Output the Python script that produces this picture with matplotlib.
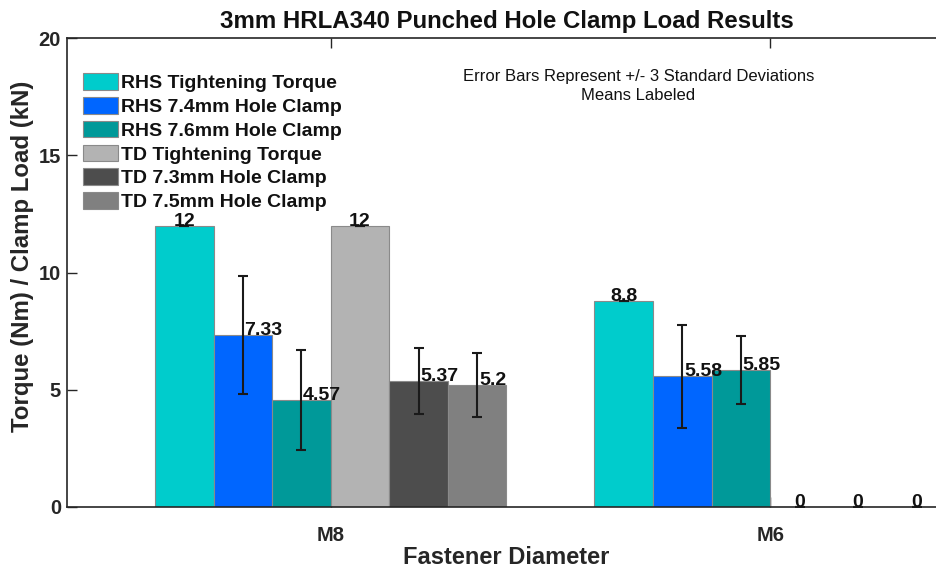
import matplotlib
matplotlib.use('Agg')
import matplotlib.pyplot as plt
import numpy as np

categories = ['M8', 'M6']
series_names = ['RHS Tightening Torque', 'RHS 7.4mm Hole Clamp', 'RHS 7.6mm Hole Clamp',
                'TD Tightening Torque', 'TD 7.3mm Hole Clamp', 'TD 7.5mm Hole Clamp']
rhs_torque = [12, 8.8]
rhs_74 = [7.33, 5.58]
rhs_76 = [4.57, 5.85]
td_torque = [12, 0]
td_73 = [5.37, 0]
td_75 = [5.2, 0]
rhs_torque_err = [0, 0]
rhs_74_err = [2.5, 2.2]
rhs_76_err = [2.12, 1.44]
td_torque_err = [0, 0]
td_73_err = [1.41, 0]
td_75_err = [1.35, 0]
yticks = [0, 5, 10, 15, 20]

means = [rhs_torque, rhs_74, rhs_76, td_torque, td_73, td_75]
errs = [rhs_torque_err, rhs_74_err, rhs_76_err, td_torque_err, td_73_err, td_75_err]
colors = ['#00CCCC', '#0066FF', '#009999', '#B3B3B3', '#4D4D4D', '#808080']

plt.rcParams['font.family'] = ['Liberation Sans', 'DejaVu Sans']
plt.rcParams['font.weight'] = 'bold'

fig = plt.figure(figsize=(9.36, 5.69), dpi=100)
ax = fig.add_axes([67/936, 62/569, (946-67)/936, (507-38)/569])

x = np.arange(1, len(categories) + 1)
n = len(means)
w = 0.8 / n
for i, (m, e, c, name) in enumerate(zip(means, errs, colors, series_names)):
    pos = x + (i - (n - 1) / 2) * w
    ax.bar(pos, m, width=w, color=c, edgecolor='#8a8a8a', linewidth=0.8, label=name, zorder=2)
    ax.errorbar(pos, m, yerr=e, fmt='none', ecolor='#1a1a1a', elinewidth=1.5,
                capsize=3.6, capthick=1.5, zorder=3)
    for px, v, ev in zip(pos, m, e):
        if ev > 0:
            ax.text(px + 0.004, v, f'{v:g}', ha='left', va='baseline', fontsize=14,
                    fontweight='bold', color='#111111', zorder=4)
        else:
            ax.text(px, v, f'{v:g}', ha='center', va='baseline', fontsize=14,
                    fontweight='bold', color='#111111', zorder=4)

ax.set_xlim(0.4, 2.4)
ax.set_ylim(0, 20)
ax.set_xticks(x)
ax.set_xticklabels(categories)
ax.set_yticks(yticks)
ax.tick_params(axis='both', direction='in', length=7.5, width=1, colors='#262626',
               labelsize=14.5, labelcolor='#262626')
ax.tick_params(axis='x', pad=14, top=True)
ax.tick_params(axis='y', pad=4.3, right=True)
for lab in ax.get_xticklabels() + ax.get_yticklabels():
    lab.set_fontweight('bold')
for s in ax.spines.values():
    s.set_color('#262626')
    s.set_linewidth(1.2)
ax.spines['right'].set_visible(False)

ax.set_title('3mm HRLA340 Punched Hole Clamp Load Results', fontsize=17.3,
             fontweight='bold', pad=7.4, color='#111111')
ax.set_xlabel('Fastener Diameter', fontsize=17, fontweight='bold', color='#262626', va='top')
ax.xaxis.set_label_coords(0.5, -0.083)
ax.set_ylabel('Torque (Nm) / Clamp Load (kN)', fontsize=17.3, fontweight='bold',
              color='#262626', va='center')
ax.yaxis.set_label_coords(-0.051, 0.535)

ax.text(0.650, 0.898, 'Error Bars Represent +/- 3 Standard Deviations\nMeans Labeled',
        transform=ax.transAxes, ha='center', va='center', fontsize=12,
        fontweight='normal', linespacing=1.3, color='#111111')

leg = ax.legend(loc='upper left', bbox_to_anchor=(0.018, 0.925), frameon=False,
                fontsize=14, handlelength=1.8, handleheight=0.93, handletextpad=0.15,
                labelspacing=0.25, borderpad=0, borderaxespad=0)
for t in leg.get_texts():
    t.set_fontweight('bold')
    t.set_color('#111111')

fig.savefig('out.png', dpi=100)
